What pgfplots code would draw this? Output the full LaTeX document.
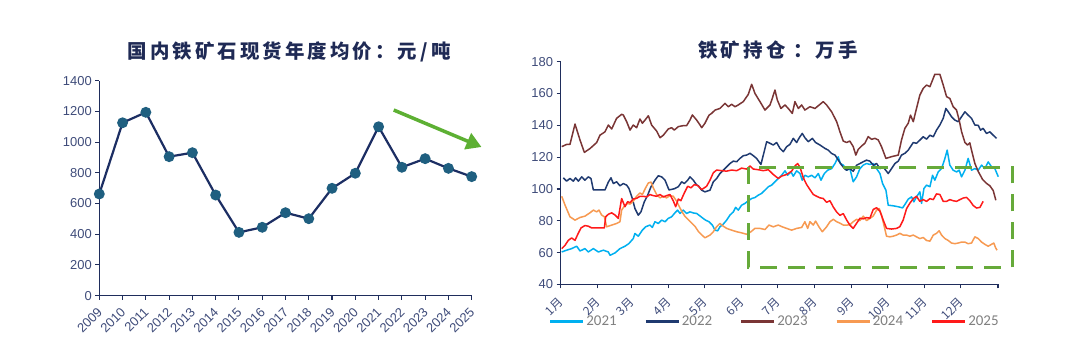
\documentclass[border=0pt]{standalone}
\usepackage{fontspec}
\setmainfont{Liberation Sans}
\newfontfamily\cjk{Noto Sans CJK SC}
\newfontfamily\cjkt{Noto Sans CJK SC}[LetterSpace=16]
\newfontfamily\carlito{Carlito}
\usepackage{pgfplots}
\pgfplotsset{compat=1.18}
\usetikzlibrary{arrows.meta}
\definecolor{axnavy}{HTML}{1F2D5C}
\definecolor{tickcol}{HTML}{3F4C7A}
\definecolor{titlecol}{HTML}{1F2A55}
\definecolor{leftline}{HTML}{1C2E63}
\definecolor{markcol}{HTML}{1F5F80}
\definecolor{grn}{HTML}{66AA3A}
\definecolor{arrowgrn}{HTML}{5DB033}
\definecolor{cA}{HTML}{00B0F0}
\definecolor{cB}{HTML}{1F3A70}
\definecolor{cC}{HTML}{7A3535}
\definecolor{cD}{HTML}{F79A52}
\definecolor{cE}{HTML}{FF1A1A}
\definecolor{legendgray}{HTML}{808080}
\begin{document}
\begin{tikzpicture}
\path[use as bounding box] (0,0) rectangle (1080bp,355bp);
\fill[white] (0,0) rectangle (1080bp,355bp);
\node[font=\cjkt\bfseries\fontsize{19.5}{19.5}\selectfont, text=titlecol] at (289bp,303.5bp) {国内铁矿石现货年度均价：元/吨};
\node[font=\cjkt\bfseries\fontsize{19.5}{19.5}\selectfont, text=titlecol] at (778bp,305bp) {铁矿持仓 ：万手};

\begin{axis}[
  at={(99.3bp,59.4bp)}, anchor=south west, scale only axis,
  width=372.4bp, height=214.9bp,
  xmin=2009, xmax=2025, ymin=0, ymax=1400,
  axis lines=left, axis line style={-, draw=axnavy, line width=1.3bp},
  tick align=outside, major tick length=4bp,
  tick style={draw=axnavy, line width=1.1bp},
  xtick={2009,...,2025}, ytick={0,200,...,1400},
  /pgf/number format/1000 sep={},
  /pgf/number format/assume math mode=true,
  ticklabel style={font=\fontsize{13}{13}\selectfont, text=tickcol},
  xticklabel style={xshift=3bp, yshift=-8bp, rotate=45, anchor=east},
  clip=false,
]
\addplot[color=leftline, line width=2.2bp, mark=*, mark size=4.3bp, mark options={fill=markcol, draw=markcol}] coordinates {
(2009,662) (2010,1126) (2011,1194) (2012,905) (2013,931) (2014,655) (2015,412) (2016,445) (2017,540) (2018,501) (2019,699) (2020,797) (2021,1100) (2022,836) (2023,892) (2024,829) (2025,775)
};
\draw[arrowgrn, line width=3.5bp, -{Triangle[length=15bp, width=17bp]}] (axis cs:2021.65,1209) -- (axis cs:2025.42,968);
\end{axis}

\begin{axis}[
  at={(560.5bp,70.6bp)}, anchor=south west, scale only axis,
  width=437.5bp, height=222.7bp,
  xmin=0, xmax=365, ymin=40, ymax=180,
  axis lines=left, axis line style={-, draw=axnavy, line width=1.3bp},
  tick align=outside, major tick length=4bp,
  tick style={draw=axnavy, line width=1.1bp},
  xtick={0,31,59,90,120,151,181,212,243,273,304,334,365},
  xticklabels={1月,2月,3月,4月,5月,6月,7月,8月,9月,10月,11月,12月,{}},
  ytick={40,60,...,180},
  /pgf/number format/assume math mode=true,
  ticklabel style={font=\fontsize{13}{13}\selectfont, text=tickcol},
  xticklabel style={font=\cjk\fontsize{12}{12}\selectfont, xshift=3bp, yshift=-9bp, rotate=45, anchor=east},
  clip=false,
  legend columns=5,
  legend style={at={(0.49,-0.167)}, anchor=center, draw=none, fill=none,
    font=\carlito\fontsize{15}{15}\selectfont, text=legendgray,
    /tikz/every even column/.append style={column sep=26bp}},
  legend image code/.code={\draw[#1, line width=2.2bp] (0bp,0bp) -- (33bp,0bp);},
  every axis plot/.append style={line width=1.5bp, line join=round},
]
\addplot[color=cA] coordinates {
(1,60.4) (5.1,61.5) (9.3,62.5) (13.5,64) (16.3,61) (20.4,62.5) (23.2,60.4) (27.4,62.5) (31.6,60.4) (35.7,61.5) (39.9,60.4) (41.3,58.3) (45.5,59.8) (49.6,62.5) (53.8,64) (57.1,65.7) (60.7,68.8) (62.1,72) (64.9,70.3) (68.3,74.1) (71,76.2) (74.6,77.3) (76.6,75.8) (78.8,79.4) (81.6,78.3) (84.4,80.4) (87.2,79.4) (89.9,81.5) (92.7,82.5) (95.5,85) (97.7,86.7) (99.7,84.6) (102.4,86.7) (105.2,84.6) (108,85.6) (110.8,84.9) (113.6,84.6) (116.4,83) (119,81.5) (121,80.4) (123.9,79.4) (126.7,77.3) (128.9,74.1) (131.1,73.7) (133,76.2) (135.8,77.9) (138.6,80.4) (141.4,83.6) (144.2,85.6) (146.1,88.4) (148.3,86.7) (151.1,89.8) (153.9,90.9) (156.7,92.6) (159.5,94) (162.2,94.6) (165,96.1) (167.8,97.2) (170.6,99.3) (173.4,101.4) (176.1,102.4) (178.9,104.5) (181.7,106.6) (184.5,108.6) (187.3,111.4) (189.5,108.6) (192.3,110.7) (194.2,108) (197,111.4) (199.8,109.7) (201.7,105.5) (203.9,108.6) (206.7,107.6) (209.5,108.6) (212.3,107) (215.1,109.7) (217.3,105.5) (220.1,109.7) (222.9,111.8) (226.2,112.8) (229,116) (231.7,120.2) (233.5,116) (235.9,115) (238.7,111.8) (241.4,112.8) (244.2,104.5) (247,107.6) (249.8,112.8) (252.6,115) (255.3,116) (258.1,115.4) (260.9,116) (263.7,112.8) (266.5,109.7) (268.7,103.4) (271.5,99.2) (273.4,89.8) (277.6,89.4) (281.8,88.8) (285.4,88.1) (287.3,90.2) (290.1,93.6) (292.9,95) (294.8,91.9) (297,95) (299.8,98.2) (301.2,90.9) (303.2,100.3) (305.4,102.4) (308.2,101.4) (310.4,108.6) (312.3,105.5) (315.1,110.7) (317.9,112.8) (320.7,119.2) (322.6,124.4) (324.8,115) (327.6,111.8) (330.4,110.7) (332.6,111.8) (334.6,107.6) (337.4,111.8) (340.1,119.2) (342.9,111.8) (345.7,112.8) (348.5,111.8) (351.3,115) (354,112.8) (356.8,117) (359.6,113.9) (362.4,112.8) (365.2,107.7)
};
\addlegendentry{2021}
\addplot[color=cB] coordinates {
(2.4,107) (5.1,104.9) (7.9,106.6) (10.7,104.9) (12.6,107) (14.9,104.9) (17.7,107.6) (20.4,105.5) (23.2,107.6) (25.4,106.6) (27.4,99.4) (31.6,99.4) (37.1,99.4) (39.9,104.3) (42.1,107) (44.1,103.4) (46.8,104.5) (49.6,102) (52.4,103.4) (55.2,102.4) (57.1,100.3) (59.9,94) (62.1,87.7) (64.9,83.5) (67.1,85.6) (69.9,91.9) (72.7,96.1) (75.5,101.4) (78.8,105.5) (81.6,108.3) (84.4,107.6) (87.2,105.5) (90.5,99.4) (94.9,100.1) (98.3,101.4) (101.1,104.5) (103.3,103.4) (106.1,105.5) (108,107.6) (110.8,105.5) (113.6,102.5) (115,102) (117.8,99.2) (120.5,98.2) (124.7,99.2) (127.5,104.5) (130.3,106.6) (133,109.7) (135.8,111.8) (138.6,113.9) (141.4,116) (144.2,117.5) (147,117.1) (149.7,119.2) (152.5,120.9) (155.3,121.3) (158.1,122.4) (160.9,120.9) (163.6,119.2) (167.2,115.4) (169.2,121.3) (172,129.7) (174.8,128.7) (177.5,127.6) (180.3,129.2) (183.1,125.5) (185.9,123.4) (188.7,126.6) (191.4,128) (194.2,131.8) (197,129.2) (199.2,132.2) (201.7,134.9) (203.9,132.2) (206.7,129.7) (210.1,131.8) (212.8,129.2) (216.5,127.6) (220.6,125.5) (223.4,124.4) (226.2,122.3) (229,121.3) (231.7,118.2) (234.5,115) (237.3,112.5) (238.7,111.8) (241.4,112.8) (244.2,111.1) (247,114.9) (249.8,116) (252.6,117.1) (255.3,118.1) (258.1,117.5) (260.9,114.9) (263.7,116) (266.5,112.8) (269.2,113.9) (273.4,109.7) (276.2,112.8) (279,116) (281.8,117.5) (284.5,121.3) (287.3,122.4) (290.1,124.4) (292.9,127.6) (294.3,129.2) (297,128.7) (299.8,130.7) (302.6,132.8) (305.4,131.3) (308.2,133.8) (311,132.8) (313.7,137) (316.5,140.2) (319.3,144.4) (321.5,150.6) (323.5,148.5) (326.2,145.4) (329,143.3) (331.8,142.3) (334.6,145.4) (337.4,148.5) (340.1,146.4) (342.9,144.4) (345.7,140.2) (348.5,140) (350.4,137) (352.6,138.1) (355.4,134.9) (358.2,135.9) (361,133.8) (363.8,131.8)
};
\addlegendentry{2022}
\addplot[color=cC] coordinates {
(1,126.6) (5.1,128) (7.9,128) (12.1,140.8) (16.3,130.7) (19.9,123) (24.6,125.4) (30.2,129.2) (32.9,133.8) (37.1,135.9) (39.9,140.2) (42.7,137.7) (46.8,144.4) (51,146.9) (52.4,146.5) (55.2,142.3) (58,137) (60.7,140.2) (63.5,138.5) (66.3,144) (68.3,141.3) (70.5,143.3) (73.3,146) (76,140.2) (80.2,136.4) (83,132.2) (85.8,133.8) (89.9,137.7) (92.7,138.5) (94.9,137) (98.3,139.2) (102.4,139.8) (105.2,139.8) (108,143.3) (110,146.5) (113.6,143.3) (116.4,140.2) (117.8,138.5) (120.5,141.3) (123.9,146.4) (126.1,147.5) (128.9,149.6) (133,150.6) (137.2,153.8) (140,151.7) (142.8,153.2) (145.6,151.7) (148.3,152.8) (152.5,154.9) (156.7,159.5) (159.5,165.8) (162.2,160.1) (166.4,154.9) (170.6,149.6) (174.8,152.8) (176.7,157) (178.9,162.2) (180.9,155.9) (183.9,150.6) (187.3,152.8) (190,150.6) (193.4,147.5) (195.6,154.9) (198.4,150.6) (201.2,152.8) (203.9,149.6) (208.1,151.7) (212.3,150.6) (216.5,153.2) (219.2,154.9) (222,152.8) (226.2,148.5) (230.4,142.3) (233.1,136) (235.9,130.1) (238.7,129.2) (241.4,130.1) (244.2,126.6) (246.4,121.3) (248.4,124.9) (251.2,127) (253.9,128.7) (256.7,132.9) (259.5,131.2) (262.3,131.8) (265.1,130.8) (267.8,126.6) (271.5,119.2) (276.2,120.3) (281.8,121.3) (284.5,130.8) (287.3,138.1) (290.1,141.3) (292,146.4) (294.3,142.3) (297,150.6) (299.8,159) (302.6,163.2) (305.4,165.3) (308.2,164.3) (310.4,168.5) (312.3,172.1) (316.5,172.1) (319.3,165.3) (322.1,158) (324.8,156.9) (327.6,151.7) (330.4,149.6) (332.6,143.3) (334.6,136) (337.4,129.2) (339.6,127.6) (341.5,129) (342.9,124.4) (345.7,116) (348.5,111) (352.1,106) (355.4,103.5) (358.2,102) (361,99) (363.2,92.9)
};
\addlegendentry{2023}
\addplot[color=cD] coordinates {
(1,95.4) (3.8,89.8) (7.9,82.5) (12.1,80.4) (16.3,82.1) (20.4,82.9) (24.6,85) (27.4,86.7) (30.2,85.6) (32.1,86.7) (34.3,83.6) (36.6,82.5) (38.5,76.2) (42.7,77.3) (46.8,78.3) (49.6,79.4) (51,86.7) (53.8,89.8) (56,90.9) (58,90.5) (60.7,92.3) (63.5,95.4) (66.3,97.5) (68.3,96.5) (71,100.7) (73.3,103.8) (75.5,104.3) (77.4,100.7) (80.2,96.5) (83,94.4) (85.8,95.4) (88.5,94.4) (91.3,95.8) (94.1,95.4) (96.9,92.3) (98.9,89.2) (101.1,86) (103.8,82.8) (106.6,80.7) (109.4,78.6) (112.2,76.5) (115,73.3) (117.7,71.2) (120.5,69.3) (124.7,71) (127.5,73.1) (130.3,76.3) (133,78.3) (135.8,76.6) (138.6,75.2) (142.8,74.1) (147,73.1) (151.1,72.4) (155.3,71.5) (158.9,73.1) (162.2,75.2) (166.4,75.2) (170.6,74.5) (173.9,77.3) (177.5,76.2) (181.7,77.3) (185,76.2) (188.7,75.2) (192.8,74.1) (197,75.2) (201.2,75.8) (203.9,79.4) (206.2,75.2) (208.1,79.4) (210.9,77.3) (212.8,79.8) (215.6,76.2) (218.4,73.1) (222,76.2) (224.8,79.4) (227.6,80.9) (230.4,79.4) (233.1,78.5) (235.9,77.3) (239,77.3) (241.4,77.5) (244.2,79.4) (247,80.9) (249.8,80.1) (252.6,82.9) (255.3,80.1) (258.1,81.5) (260.9,83) (263.7,86.7) (265.9,87.7) (267.8,83.6) (269.8,77.3) (272,70.3) (274.8,69.9) (277.6,70.3) (280.4,71) (283.1,72.1) (285.9,71) (288.7,71) (291.5,70.3) (294.3,71) (297,69.9) (299.8,68.8) (302.6,69.5) (305.4,67.6) (308.2,67.2) (311,71) (313.7,72.1) (315.9,73.7) (317.9,71) (320.7,68.8) (323.5,67.6) (326.2,66) (329,65.6) (331.8,66) (334.6,66.6) (337.4,66.6) (340.1,65.6) (342.9,66) (345.7,69.9) (348.5,68.8) (351.3,66.6) (354,65.2) (356.8,64) (359.6,65.2) (361.5,66) (363,63) (364.2,61.5)
};
\addlegendentry{2024}
\addplot[color=cE] coordinates {
(1,62.5) (3.8,64.6) (6.5,67.7) (9.3,69.2) (12.1,67.7) (14.3,71.3) (17.1,75.5) (20.4,77) (23.2,76.6) (26,75.5) (30.2,75.5) (34.3,75.5) (36.6,75.5) (37.7,82.5) (39.9,84.1) (42.7,85) (45.5,83.6) (48.2,81.5) (51,94) (53.8,88.8) (56,92) (58,91.4) (60.7,93.7) (63.5,94.1) (66.3,95.4) (69.1,95.4) (71.9,95) (74.6,96.5) (77.4,95.8) (80.2,95.4) (83,96.5) (85.8,95) (88.5,95.8) (91.3,96.5) (94.1,92.5) (96.1,88.8) (98.3,93.7) (100.4,92.6) (103.3,97.5) (106.1,101.7) (108.8,100.7) (111.6,102.7) (114.4,102.2) (116.4,100.7) (117.8,99.6) (121.9,101.7) (124.7,105.5) (127.5,110.2) (130.3,111.9) (134.4,111.5) (138.6,111.2) (142.8,111.9) (147,111.5) (151.1,113.1) (155.3,112.5) (158.1,114.4) (160.9,112.5) (165,112.1) (169.2,111.5) (173.4,112.1) (177.5,109.1) (181.7,106.6) (184.5,108.1) (188.7,109.1) (192.8,111.2) (195.6,114.4) (197.8,116) (199.8,113.7) (202.6,107) (205.3,102.8) (208.1,99.6) (210.9,96.5) (213.7,95.4) (216.5,94.4) (219.2,94) (222,91.6) (224.8,92.6) (227.6,88.6) (230.4,85.5) (233.1,83.4) (235.9,84.5) (238.7,80.5) (241.4,77.3) (244.2,75.2) (247,78.4) (249.8,81.6) (252.6,81.2) (255.3,82) (258.1,81.6) (260.9,87.1) (263.7,88.2) (266.5,86) (269.2,80.5) (272,75.2) (276.2,74.8) (280.4,75.2) (283.1,76.3) (285.9,80.5) (288.7,87.6) (291.5,91.1) (294.3,93.9) (297,95.4) (299.8,92.2) (302.6,93.3) (305.4,92.2) (308.2,93.9) (311,93.3) (313.7,96.9) (316.5,96.5) (319.3,92.2) (322.1,92.2) (324.8,93.3) (327.6,92.6) (330.4,92.2) (333.2,93.3) (336,94.3) (338.7,94.7) (341.5,92.6) (344.3,89.6) (347.1,88) (349.9,88.4) (352.6,92.2)
};
\addlegendentry{2025}
\draw[grn, line width=2.8bp, dash pattern=on 17bp off 11bp] (axis cs:156.6,113.6) rectangle (axis cs:376.8,50.7);
\end{axis}
\end{tikzpicture}
\end{document}
